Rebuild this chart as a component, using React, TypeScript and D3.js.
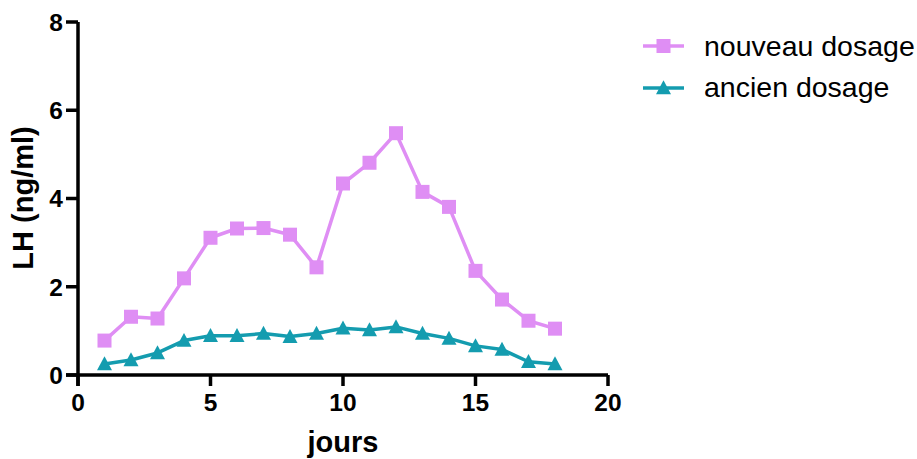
import React from "react";
import * as d3 from "d3";

const days = [1, 2, 3, 4, 5, 6, 7, 8, 9, 10, 11, 12, 13, 14, 15, 16, 17, 18];
const nouveauDosage = [0.78, 1.32, 1.28, 2.19, 3.11, 3.32, 3.33, 3.18, 2.44, 4.34, 4.81, 5.48, 4.15, 3.81, 2.36, 1.71, 1.23, 1.05];
const ancienDosage = [0.25, 0.34, 0.5, 0.78, 0.89, 0.89, 0.94, 0.87, 0.94, 1.06, 1.02, 1.09, 0.94, 0.83, 0.66, 0.58, 0.3, 0.25];
const xTicks = [0, 5, 10, 15, 20];
const yTicks = [0, 2, 4, 6, 8];
const seriesNames = ["nouveau dosage", "ancien dosage"];
const xTitle = "jours";
const yTitle = "LH (ng/ml)";

const PINK = "#DF8EF4";
const TEAL = "#149CAF";
const FONT = "'Liberation Sans', Arial, Helvetica, sans-serif";

function Square({ cx, cy, s, fill }: { cx: number; cy: number; s: number; fill: string }) {
  return <rect x={cx - s / 2} y={cy - s / 2} width={s} height={s} fill={fill} />;
}

function Triangle({ cx, cy, s, fill }: { cx: number; cy: number; s: number; fill: string }) {
  const h = s * 0.93;
  const p = `${cx},${cy - h * 0.55} ${cx + s / 2},${cy + h * 0.45} ${cx - s / 2},${cy + h * 0.45}`;
  return <polygon points={p} fill={fill} />;
}

export default function App() {
  const W = 917;
  const H = 459;
  const x = d3.scaleLinear().domain([0, 20]).range([78, 608]);
  const y = d3.scaleLinear().domain([0, 8]).range([375, 22]);
  const line = d3
    .line<number>()
    .x((_, i) => x(days[i]))
    .y((d) => y(d));

  return (
    <svg
      width={W}
      height={H}
      style={{ position: "absolute", left: 0, top: 0 }}
      fontFamily={FONT}
    >
      <rect width={W} height={H} fill="#fff" />
      <path d={line(nouveauDosage) || ""} fill="none" stroke={PINK} strokeWidth={3.5} strokeLinejoin="round" />
      <path d={line(ancienDosage) || ""} fill="none" stroke={TEAL} strokeWidth={3.5} strokeLinejoin="round" />
      {nouveauDosage.map((v, i) => (
        <Square key={"s" + i} cx={x(days[i])} cy={y(v)} s={14} fill={PINK} />
      ))}
      {ancienDosage.map((v, i) => (
        <Triangle key={"t" + i} cx={x(days[i])} cy={y(v)} s={15} fill={TEAL} />
      ))}

      <line x1={x(0)} x2={x(0)} y1={y(8)} y2={y(0) + 11} stroke="#000" strokeWidth={3.5} />
      <line x1={x(0) - 12} x2={x(20)} y1={y(0)} y2={y(0)} stroke="#000" strokeWidth={3.5} />
      {yTicks.map((t) => (
        <g key={"y" + t}>
          <line x1={x(0) - 12} x2={x(0)} y1={y(t)} y2={y(t)} stroke="#000" strokeWidth={3.5} />
          <text x={x(0) - 15} y={y(t) + 8.8} textAnchor="end" fontSize={24.5} fontWeight="bold" fill="#000">
            {t}
          </text>
        </g>
      ))}
      {xTicks.map((t) => (
        <g key={"x" + t}>
          <line x1={x(t)} x2={x(t)} y1={y(0)} y2={y(0) + 11} stroke="#000" strokeWidth={3.5} />
          <text x={x(t)} y={411} textAnchor="middle" fontSize={24.5} fontWeight="bold" fill="#000">
            {t}
          </text>
        </g>
      ))}
      <text x={343} y={452} textAnchor="middle" fontSize={29} fontWeight="bold" fill="#000">
        {xTitle}
      </text>
      <text
        transform={`translate(33,198) rotate(-90)`}
        textAnchor="middle"
        fontSize={29}
        fontWeight="bold"
        fill="#000"
      >
        {yTitle}
      </text>

      <g>
        <line x1={643} x2={684} y1={46} y2={46} stroke={PINK} strokeWidth={3.5} />
        <Square cx={663.5} cy={46} s={14} fill={PINK} />
        <text x={704} y={56} fontSize={28.5} fill="#000">
          {seriesNames[0]}
        </text>
        <line x1={643} x2={684} y1={88} y2={88} stroke={TEAL} strokeWidth={3.5} />
        <Triangle cx={663.5} cy={88} s={15} fill={TEAL} />
        <text x={704} y={97} fontSize={28.5} fill="#000">
          {seriesNames[1]}
        </text>
      </g>
    </svg>
  );
}
